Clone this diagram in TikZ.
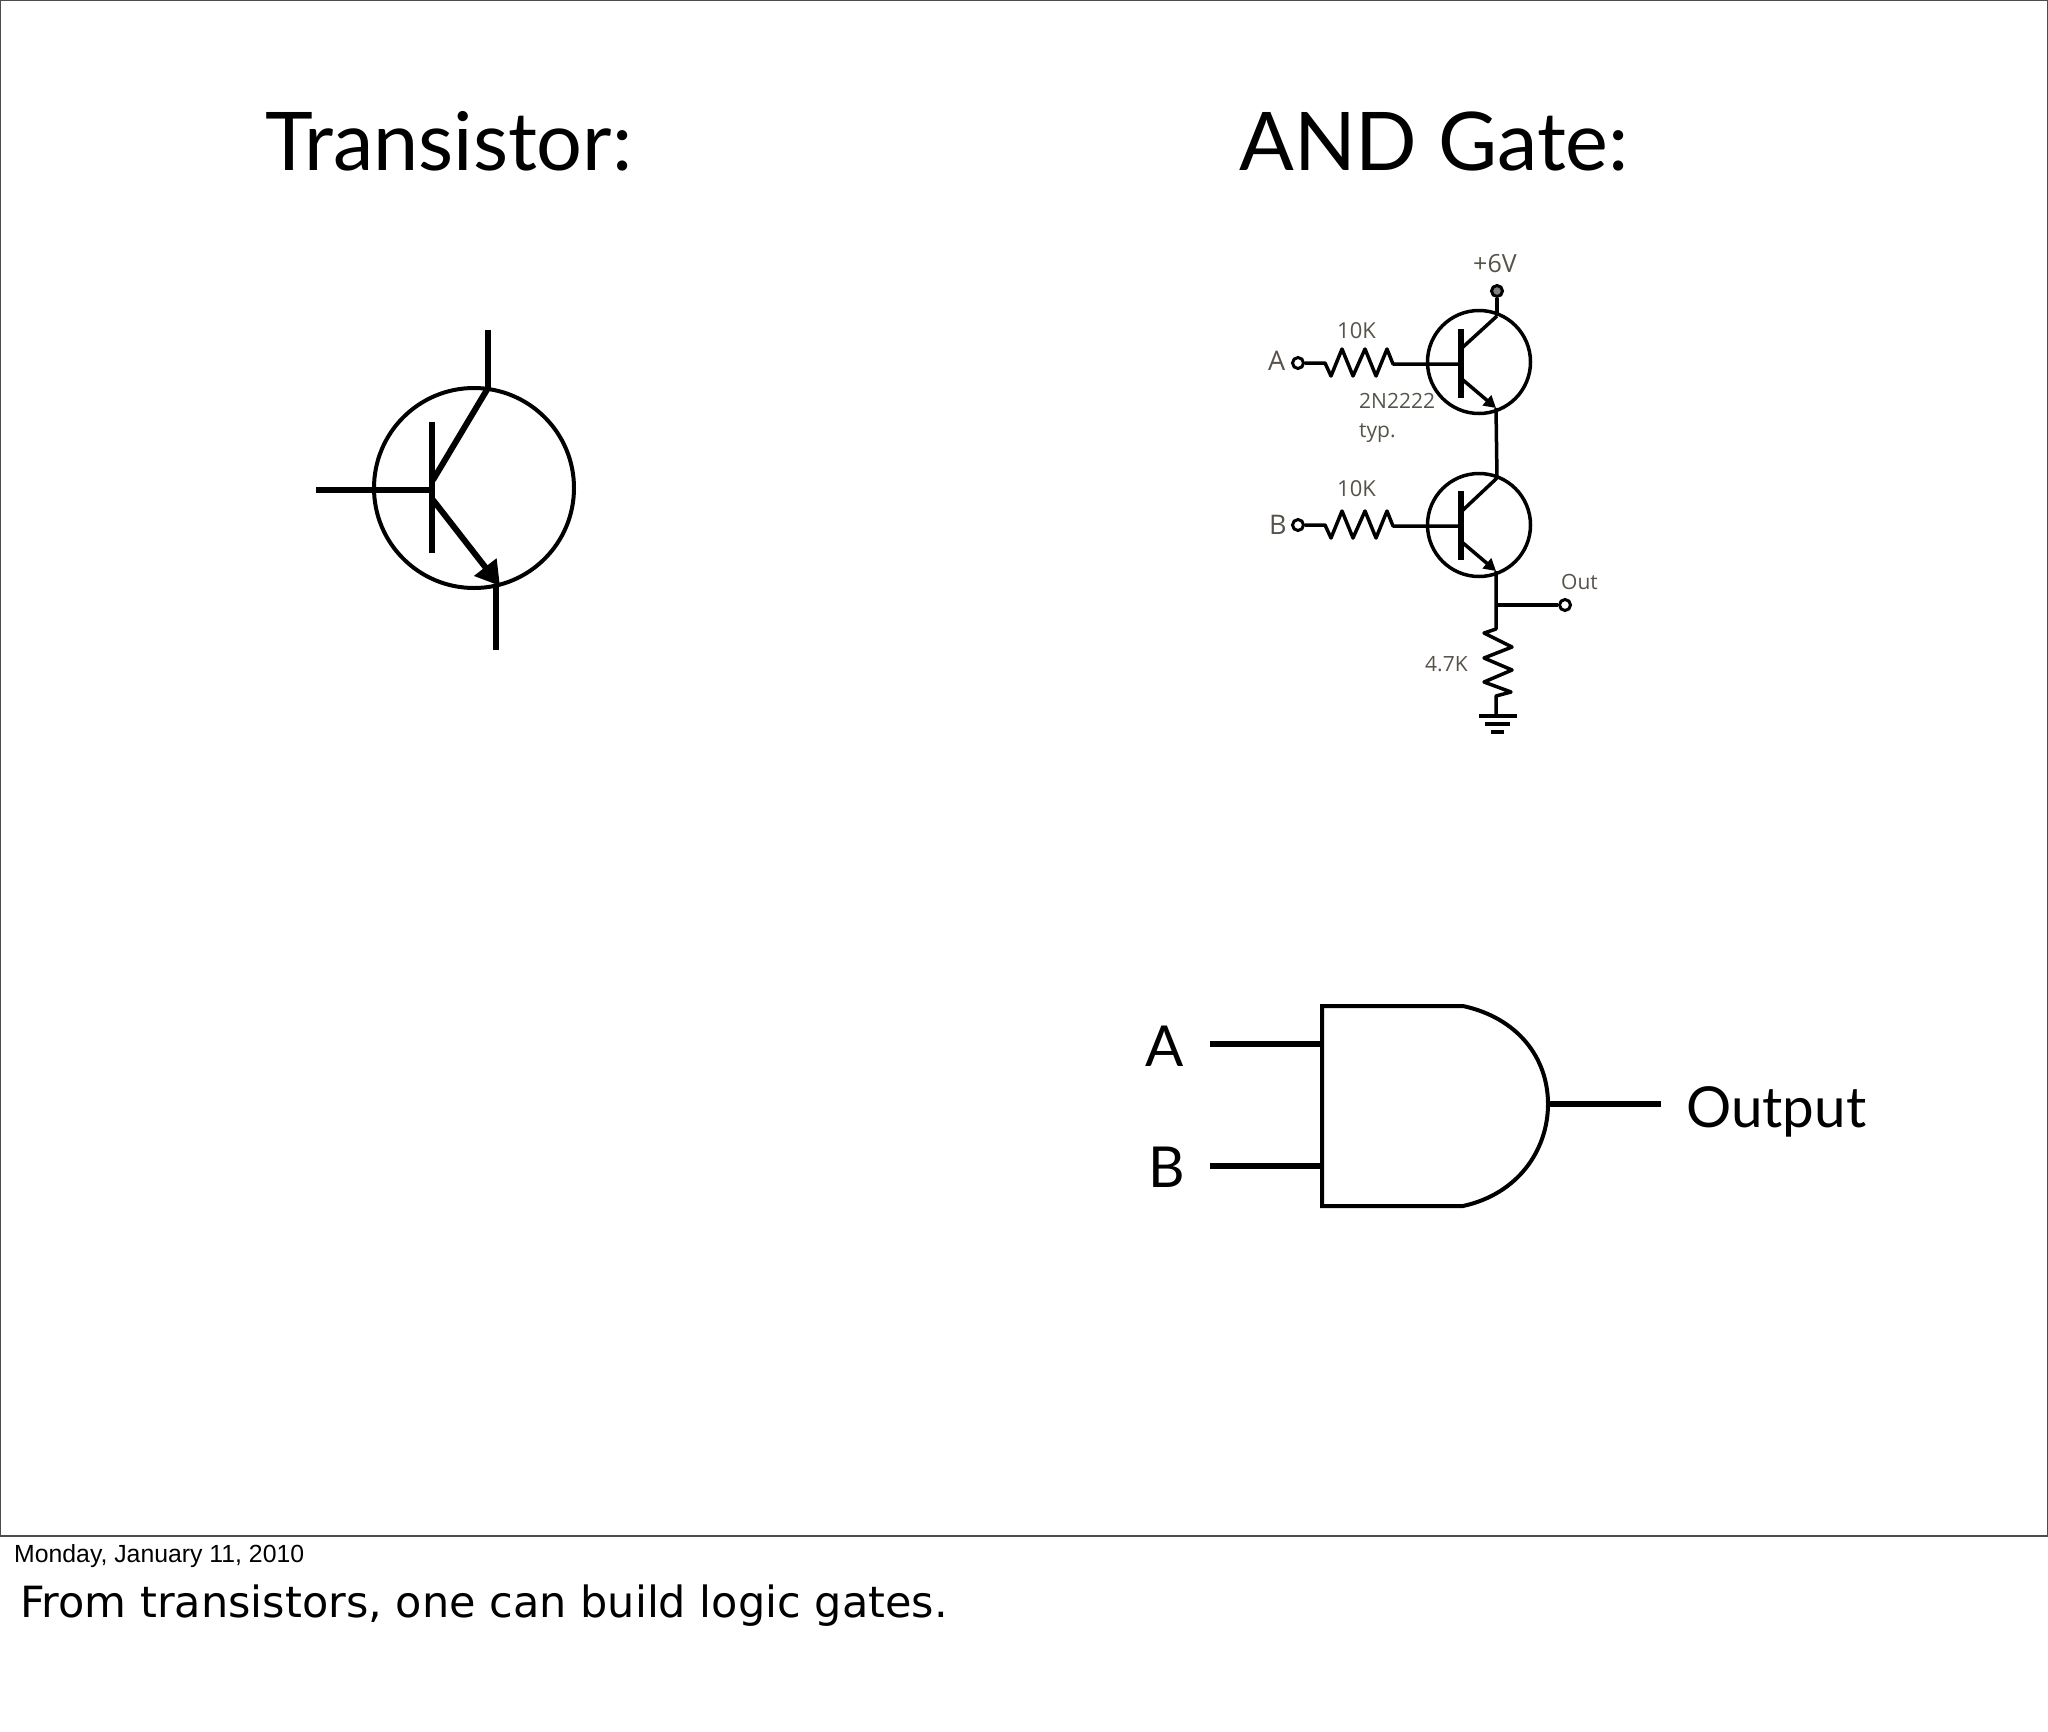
\documentclass[tikz,border=0pt]{standalone}
\usepackage{fontspec}
\setmainfont{Lato}
\newfontfamily\datefont{Liberation Sans}
\newfontfamily\notefont{DejaVu Sans}
\newfontfamily\partfont{Open Sans}
\usetikzlibrary{arrows.meta}
\definecolor{partgray}{HTML}{57534A}
\tikzset{
   title/.style={anchor=base west, inner sep=0pt, font=\fontsize{81}{100}\selectfont},
   gatelabel/.style={anchor=base west, inner sep=0pt, font=\fontsize{56.5}{68}\selectfont},
   partlabel/.style={anchor=base west, inner sep=0pt, text=partgray, font=\partfont\fontsize{21}{25}\selectfont},
   pinlabel/.style={partlabel, font=\partfont\fontsize{27}{32}\selectfont},
   lead/.style={line width=6pt},
   wire/.style={line width=3.5pt, line join=round},
   pad/.style={circle, draw, line width=3pt, fill=white, inner sep=0pt, minimum size=11pt}
}
\begin{document}
\begin{tikzpicture}[x=1pt, y=-1pt]
   \useasboundingbox (0,0) rectangle (2048,1732);
   \node[coordinate] (slidenw) at (0,0) {};
   \node[coordinate] (slidese) at (2048,1536) {};
   \draw[line width=2pt, black!70] (slidenw) rectangle (slidese);

   \node[title] (titletrans) at (265,170) {Transistor:};
   \node[title] (titleand) at (1239,170) {AND Gate:};

   % big transistor
   \node[coordinate] (base) at (316,490) {};
   \node[coordinate] (barmid) at (432,490) {};
   \node[coordinate] (bartop) at (432,422) {};
   \node[coordinate] (barbot) at (432,553) {};
   \node[coordinate] (colin) at (433,480) {};
   \node[coordinate] (coltop) at (488,388) {};
   \node[coordinate] (colend) at (488,330) {};
   \node[coordinate] (emin) at (433,500) {};
   \node[coordinate] (emtip) at (500,586) {};
   \node[coordinate] (emtop) at (496,587) {};
   \node[coordinate] (emend) at (496,650) {};
   \node[circle, draw, line width=4pt, minimum size=200pt, inner sep=0pt] (bigq) at (474,488) {};
   \draw[lead] (base) -- (barmid);
   \draw[lead] (bartop) -- (barbot);
   \draw[lead] (colin) -- (coltop);
   \draw[lead] (colend) -- (coltop);
   \draw[lead, -{Triangle[length=24pt, width=27pt]}] (emin) -- (emtip);
   \draw[lead] (emtop) -- (emend);

   % top transistor of the gate
   \node[partlabel, font=\partfont\fontsize{25}{30}\selectfont] (vcclabel) at (1473,272) {+6V};
   \node[pad, fill=gray] (vcc) at (1497,291) {};
   \node[circle, draw, line width=3.5pt, minimum size=103pt, inner sep=0pt] (qa) at (1479,362) {};
   \node[coordinate] (qac) at (1497,316) {};
   \node[coordinate] (qae) at (1496,408) {};
   \node[coordinate] (qacin) at (1463,347) {};
   \node[coordinate] (qaein) at (1463,380) {};
   \node[coordinate] (qabar) at (1461,364) {};
   \node[coordinate] (qabt) at (1461,329) {};
   \node[coordinate] (qabb) at (1461,398) {};
   \node[coordinate] (ra) at (1393,364) {};
   \node[pad] (ina) at (1298,363) {};
   \node[pinlabel] (alabel) at (1268,370) {A};
   \node[partlabel, font=\partfont\fontsize{22}{26}\selectfont] (ravalue) at (1337,338) {10K};
   \node[partlabel] (typea) at (1359,408) {2N2222};
   \node[partlabel] (typeb) at (1359,437) {typ.};
   \draw[wire] (vcc) -- (qac);
   \draw[wire] (qac) -- (qacin);
   \draw[line width=5.5pt] (qabt) -- (qabb);
   \draw[wire, -{Triangle[length=12pt, width=13pt]}] (qaein) -- (qae);
   \draw[wire] (ina) -- (1325,363) -- ++(6,13) -- ++(11,-27) -- ++(11,27) -- ++(12,-27) -- ++(11,27) -- ++(11,-27) -- (ra) -- (qabar);

   % bottom transistor of the gate
   \node[circle, draw, line width=3.5pt, minimum size=103pt, inner sep=0pt] (qb) at (1479,525) {};
   \node[coordinate] (qbc) at (1497,478) {};
   \node[coordinate] (qbe) at (1496,571) {};
   \node[coordinate] (qbcin) at (1463,510) {};
   \node[coordinate] (qbein) at (1463,543) {};
   \node[coordinate] (qbbar) at (1461,526) {};
   \node[coordinate] (qbbt) at (1461,491) {};
   \node[coordinate] (qbbb) at (1461,560) {};
   \node[coordinate] (rb) at (1393,526) {};
   \node[pad] (inb) at (1298,525) {};
   \node[pinlabel] (blabel) at (1269,534) {B};
   \node[partlabel, font=\partfont\fontsize{22}{26}\selectfont] (rbvalue) at (1337,496) {10K};
   \draw[wire] (qae) -- (qbc);
   \draw[wire] (qbc) -- (qbcin);
   \draw[line width=5.5pt] (qbbt) -- (qbbb);
   \draw[wire, -{Triangle[length=12pt, width=13pt]}] (qbein) -- (qbe);
   \draw[wire] (inb) -- (1325,525) -- ++(6,13) -- ++(11,-27) -- ++(11,27) -- ++(12,-27) -- ++(11,27) -- ++(11,-27) -- (rb) -- (qbbar);

   % output and load
   \node[coordinate] (junction) at (1496,605) {};
   \node[coordinate] (rltop) at (1496,629) {};
   \node[coordinate] (rlbot) at (1496,696) {};
   \node[coordinate] (gnd) at (1496,716) {};
   \node[pad] (out) at (1565,605) {};
   \node[partlabel] (outlabel) at (1561,589) {Out};
   \node[partlabel] (rlvalue) at (1425,671) {4.7K};
   \draw[wire] (qbe) -- (junction) -- (rltop) -- (1484,633) -- (1512,647) -- (1484,658) -- (1512,670) -- (1484,682) -- (1511,692) -- (rlbot) -- (gnd);
   \draw[wire] (junction) -- (out);
   \draw[wire] (1479,716) -- (1517,716);
   \draw[wire] (1485,724) -- (1510,724);
   \draw[wire] (1491,732) -- (1504,732);

   % gate symbol
   \node[coordinate] (gatenw) at (1322,1006) {};
   \node[coordinate] (gatesw) at (1322,1206) {};
   \node[coordinate] (gatene) at (1463,1006) {};
   \node[coordinate] (gatese) at (1463,1206) {};
   \node[coordinate] (gatee) at (1548,1104) {};
   \node[coordinate] (pina) at (1322,1044) {};
   \node[coordinate] (pinb) at (1322,1166) {};
   \node[coordinate] (lefta) at (1210,1044) {};
   \node[coordinate] (leftb) at (1210,1166) {};
   \node[coordinate] (right) at (1661,1104) {};
   \draw[line width=4pt] (gatene) -- (gatenw) -- (gatesw) -- (gatese) .. controls (1518,1194) and (1548,1150) .. (gatee) .. controls (1548,1058) and (1518,1018) .. (gatene);
   \draw[lead] (lefta) -- (pina);
   \draw[lead] (leftb) -- (pinb);
   \draw[lead] (gatee) -- (right);
   \node[gatelabel] (gatea) at (1145,1066) {A};
   \node[gatelabel] (gateb) at (1148,1187) {B};
   \node[gatelabel] (gateout) at (1686,1127) {Output};

   \node[anchor=base west, inner sep=0pt, font=\datefont\fontsize{24.8}{30}\selectfont] (date) at (14,1562) {Monday, January 11, 2010};
   \node[anchor=base west, inner sep=0pt, font=\notefont\fontsize{43}{52}\selectfont] (note) at (20,1617) {From transistors, one can build logic gates.};
\end{tikzpicture}
\end{document}
